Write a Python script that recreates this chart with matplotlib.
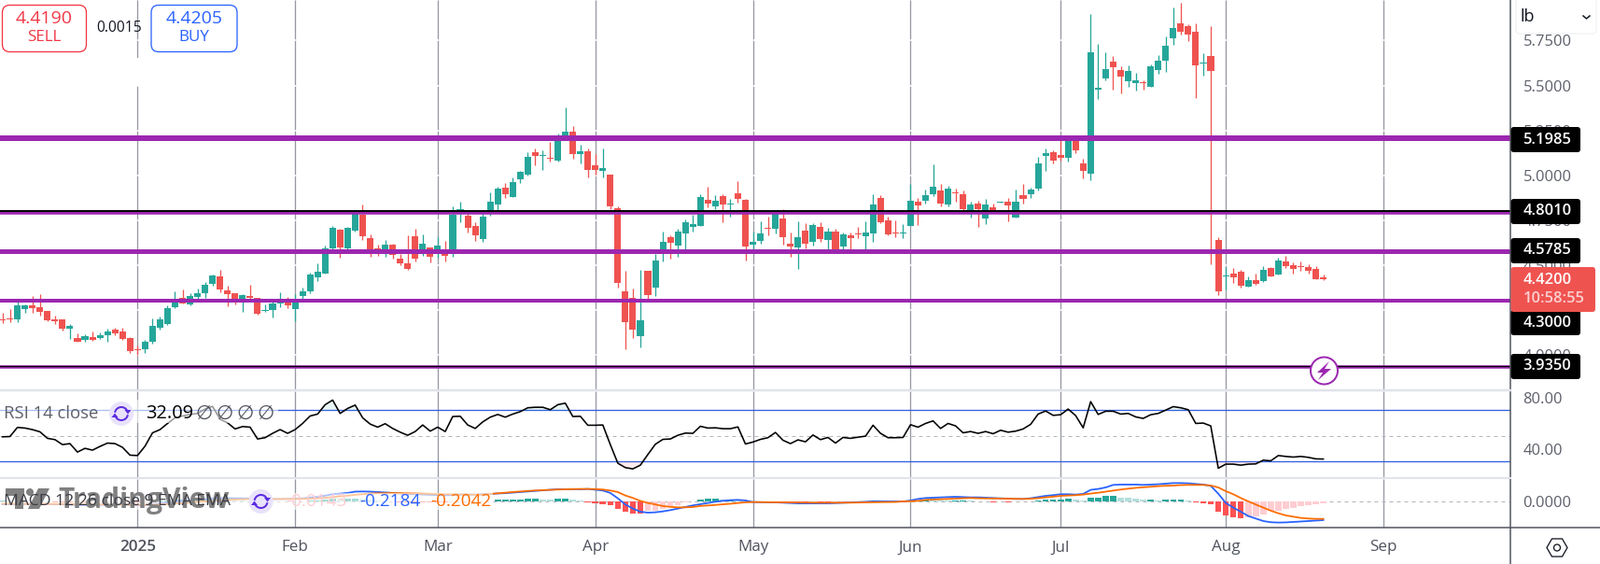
import numpy as np
import matplotlib
matplotlib.use("Agg")
import matplotlib.pyplot as plt
from matplotlib.patches import FancyBboxPatch, Rectangle, Circle, Polygon, Arc

plt.rcParams["font.family"] = "Open Sans"

W, H = 1715, 604
PX = 0.72  # one pixel in points at dpi 100

# bars are numbered from the first session of 2025
bars = np.arange(-18, 159)
month_bars = [0, 21, 40, 61, 82, 103, 123, 145, 166]
month_labels = ["2025", "Feb", "Mar", "Apr", "May", "Jun", "Jul", "Aug", "Sep"]

opens = [4.200,4.203,4.198,4.255,4.276,4.265,4.245,4.198,4.198,4.147,4.095,4.085,4.100,4.095,4.111,4.142,4.131,4.095,4.033,
    4.033,4.075,4.152,4.172,4.265,4.317,4.281,4.320,4.343,4.394,4.435,4.358,4.343,4.301,4.327,4.317,4.245,4.250,4.286,4.301,
    4.255,4.327,4.353,4.430,4.451,4.590,4.693,4.590,4.688,4.776,4.647,4.590,4.582,4.611,4.534,4.508,4.657,4.585,4.595,4.583,
    4.570,4.583,4.800,4.771,4.714,4.642,4.793,4.833,4.925,4.874,4.972,4.998,5.121,5.101,5.090,5.075,5.206,5.235,5.111,5.127,
    5.049,5.018,4.998,4.812,4.353,4.317,4.105,4.466,4.374,4.583,4.652,4.606,4.673,4.709,4.714,4.858,4.822,4.879,4.833,4.894,
    4.858,4.611,4.631,4.704,4.698,4.755,4.616,4.595,4.688,4.626,4.709,4.637,4.683,4.601,4.662,4.673,4.657,4.673,4.869,4.745,
    4.678,4.673,4.714,4.848,4.853,4.889,4.910,4.833,4.900,4.889,4.802,4.838,4.755,4.817,4.843,4.848,4.760,4.884,4.889,4.920,
    5.101,5.121,5.106,5.090,5.185,5.060,5.003,5.467,5.529,5.622,5.575,5.513,5.503,5.508,5.482,5.575,5.627,5.751,5.833,5.818,
    5.787,5.611,5.653,4.637,4.434,4.451,4.461,4.379,4.415,4.410,4.482,4.446,4.518,4.497,4.494,4.487,4.477,4.430]
closes = [4.195,4.198,4.276,4.276,4.260,4.240,4.193,4.188,4.147,4.162,4.075,4.105,4.085,4.111,4.131,4.121,4.090,4.023,4.028,
    4.075,4.162,4.198,4.260,4.291,4.286,4.327,4.343,4.389,4.441,4.363,4.338,4.301,4.332,4.317,4.229,4.250,4.286,4.301,4.276,
    4.307,4.353,4.446,4.461,4.590,4.704,4.595,4.704,4.786,4.657,4.580,4.582,4.611,4.554,4.508,4.477,4.534,4.616,4.544,4.606,
    4.549,4.776,4.807,4.704,4.662,4.766,4.848,4.920,4.889,4.956,5.013,5.096,5.101,5.106,5.085,5.188,5.235,5.111,5.127,5.023,
    5.023,5.034,4.822,4.399,4.183,4.142,4.193,4.332,4.523,4.626,4.621,4.683,4.735,4.724,4.874,4.838,4.853,4.833,4.838,4.864,
    4.601,4.626,4.673,4.698,4.784,4.652,4.601,4.652,4.616,4.719,4.642,4.683,4.582,4.668,4.647,4.668,4.678,4.833,4.735,4.668,
    4.673,4.678,4.853,4.827,4.884,4.931,4.838,4.920,4.894,4.807,4.833,4.807,4.833,4.797,4.848,4.827,4.848,4.864,4.915,5.060,
    5.116,5.075,5.090,5.185,5.132,5.018,5.673,5.475,5.580,5.591,5.539,5.570,5.518,5.503,5.596,5.627,5.709,5.807,5.787,5.771,
    5.601,5.617,5.570,4.353,4.439,4.430,4.384,4.415,4.394,4.472,4.435,4.523,4.492,4.477,4.489,4.466,4.420,4.418]
highs = [4.234,4.257,4.295,4.281,4.327,4.338,4.245,4.219,4.198,4.172,4.121,4.116,4.131,4.126,4.147,4.152,4.152,4.100,4.054,
    4.085,4.203,4.214,4.276,4.353,4.363,4.343,4.370,4.405,4.446,4.472,4.384,4.343,4.338,4.389,4.317,4.281,4.301,4.348,4.322,
    4.338,4.374,4.456,4.508,4.606,4.714,4.699,4.709,4.797,4.833,4.668,4.611,4.637,4.616,4.559,4.662,4.698,4.668,4.595,4.652,
    4.631,4.822,4.848,4.797,4.735,4.786,4.900,4.931,4.951,4.982,5.018,5.121,5.142,5.132,5.178,5.223,5.369,5.266,5.163,5.142,
    5.111,5.142,4.998,4.822,4.466,4.368,4.472,4.466,4.559,4.683,4.662,4.698,4.750,4.776,4.889,4.931,4.884,4.889,4.864,4.962,
    4.864,4.683,4.740,4.766,4.793,4.807,4.678,4.740,4.729,4.729,4.735,4.704,4.698,4.678,4.678,4.709,4.740,4.889,4.884,4.766,
    4.745,4.724,4.946,4.869,4.915,5.054,4.946,4.936,4.920,4.910,4.848,4.853,4.864,4.838,4.850,4.869,4.915,4.946,4.925,5.096,
    5.142,5.132,5.188,5.200,5.200,5.085,5.885,5.720,5.673,5.653,5.596,5.601,5.560,5.518,5.606,5.658,5.761,5.921,5.947,5.828,
    5.833,5.668,5.818,4.652,4.487,4.482,4.472,4.435,4.451,4.492,4.487,4.539,4.549,4.513,4.518,4.503,4.492,4.446]
lows = [4.179,4.183,4.183,4.234,4.234,4.219,4.188,4.174,4.136,4.090,4.075,4.075,4.080,4.090,4.075,4.111,4.085,4.013,4.002,
    4.013,4.064,4.142,4.167,4.260,4.286,4.277,4.303,4.317,4.384,4.348,4.270,4.281,4.240,4.301,4.224,4.240,4.209,4.265,4.260,
    4.188,4.312,4.343,4.410,4.451,4.585,4.539,4.580,4.683,4.637,4.544,4.549,4.544,4.534,4.497,4.472,4.518,4.549,4.513,4.539,
    4.518,4.544,4.735,4.678,4.631,4.626,4.771,4.797,4.869,4.874,4.951,4.992,5.049,5.023,5.070,5.070,5.188,5.085,5.060,4.982,
    4.998,4.982,4.807,4.374,4.033,4.095,4.044,4.312,4.327,4.518,4.534,4.544,4.582,4.683,4.714,4.817,4.807,4.735,4.766,4.843,
    4.523,4.570,4.616,4.662,4.673,4.611,4.544,4.477,4.590,4.606,4.626,4.580,4.578,4.576,4.582,4.647,4.582,4.626,4.729,4.662,
    4.652,4.647,4.714,4.719,4.838,4.879,4.822,4.822,4.848,4.797,4.760,4.709,4.724,4.793,4.841,4.740,4.760,4.838,4.869,4.910,
    5.018,5.060,5.075,5.070,5.116,4.977,4.967,5.415,5.518,5.467,5.446,5.482,5.462,5.467,5.482,5.555,5.565,5.714,5.771,5.735,
    5.420,5.544,4.503,4.332,4.363,4.399,4.374,4.379,4.389,4.405,4.435,4.446,4.482,4.451,4.466,4.451,4.420,4.415]

rsi = [49.4,49.6,56.7,56.2,55.0,53.3,48.2,47.2,43.3,44.1,37.5,40.4,39.0,41.9,44.5,44.1,41.2,35.1,34.8,
    42.1,52.5,55.0,59.8,64.2,65.6,66.8,67.6,71.0,73.1,63.0,60.3,55.5,57.4,56.9,47.7,48.7,52.1,55.0,52.1,
    55.0,59.8,65.6,67.1,74.4,78.0,67.6,71.5,74.1,64.2,59.3,56.9,59.6,55.9,53.0,50.6,53.5,58.6,53.8,56.9,
    53.5,65.2,65.4,58.6,55.9,61.0,64.7,66.8,64.7,67.1,69.0,72.0,72.4,72.4,70.5,74.4,75.6,65.2,65.4,58.4,
    58.4,58.6,43.3,28.8,25.4,24.4,27.3,35.6,43.6,47.4,47.7,50.6,52.3,52.1,57.6,56.2,56.4,55.7,55.7,57.1,
    43.8,45.3,47.4,48.7,52.8,46.7,44.1,47.0,45.5,50.8,47.2,48.9,44.5,48.9,48.2,49.1,49.9,58.4,52.1,48.7,
    48.7,48.9,58.8,56.9,59.8,61.8,55.9,59.8,57.9,52.5,53.5,52.1,53.5,51.8,54.5,53.0,53.8,55.5,59.1,67.1,
    69.5,66.1,66.6,71.0,65.9,56.4,76.8,66.8,69.3,69.3,67.1,67.6,64.9,63.7,66.6,67.6,70.2,72.9,72.0,70.5,
    59.8,60.1,57.9,24.9,28.1,28.1,27.3,28.1,28.3,31.2,30.7,34.8,34.1,33.6,34.1,33.4,32.2,32.09]

macd = [-0.030,-0.030,-0.028,-0.025,-0.025,-0.025,-0.028,-0.030,-0.032,-0.035,-0.040,-0.040,-0.040,-0.038,-0.035,-0.033,-0.033,-0.038,-0.042,
    -0.040,-0.032,-0.022,-0.010,0.002,0.010,0.018,0.025,0.032,0.040,0.042,0.042,0.040,0.040,0.038,0.030,0.028,0.030,0.033,0.035,
    0.035,0.040,0.050,0.058,0.072,0.090,0.096,0.104,0.120,0.122,0.120,0.115,0.110,0.105,0.098,0.090,0.088,0.086,0.082,0.080,
    0.076,0.082,0.085,0.085,0.084,0.088,0.092,0.098,0.102,0.108,0.115,0.122,0.130,0.135,0.142,0.148,0.148,0.150,0.148,0.152,
    0.142,0.133,0.104,0.040,-0.033,-0.081,-0.119,-0.130,-0.126,-0.115,-0.100,-0.081,-0.063,-0.044,-0.030,-0.015,0.000,0.011,0.019,0.022,
    0.015,-0.004,-0.005,-0.006,-0.008,-0.012,-0.015,-0.020,-0.020,-0.019,-0.020,-0.020,-0.017,-0.013,-0.009,-0.005,-0.001,0.005,0.004,0.002,
    0.002,0.002,0.015,0.033,0.044,0.048,0.052,0.056,0.059,0.056,0.052,0.052,0.048,0.044,0.041,0.037,0.033,0.033,0.041,0.056,
    0.070,0.078,0.089,0.089,0.085,0.093,0.141,0.152,0.170,0.200,0.204,0.204,0.204,0.200,0.204,0.208,0.215,0.222,0.222,0.219,
    0.211,0.204,0.189,0.096,-0.015,-0.070,-0.119,-0.170,-0.200,-0.230,-0.244,-0.248,-0.246,-0.241,-0.237,-0.230,-0.224,-0.2184]
signal = [-0.025,-0.026,-0.026,-0.026,-0.026,-0.026,-0.026,-0.027,-0.028,-0.029,-0.030,-0.032,-0.033,-0.034,-0.034,-0.034,-0.034,-0.035,-0.036,
    -0.037,-0.036,-0.033,-0.029,-0.023,-0.016,-0.009,-0.002,0.005,0.012,0.018,0.023,0.027,0.030,0.032,0.032,0.031,0.031,0.031,0.032,
    0.033,0.034,0.037,0.041,0.047,0.056,0.064,0.072,0.082,0.090,0.096,0.100,0.102,0.103,0.102,0.100,0.098,0.096,0.093,0.091,
    0.088,0.087,0.086,0.086,0.085,0.085,0.092,0.100,0.108,0.115,0.122,0.128,0.134,0.138,0.141,0.145,0.148,0.150,0.152,0.152,
    0.150,0.145,0.133,0.115,0.074,0.045,0.010,-0.015,-0.032,-0.052,-0.061,-0.067,-0.067,-0.063,-0.050,-0.045,-0.038,-0.030,-0.024,-0.015,
    -0.007,-0.004,-0.005,-0.005,-0.006,-0.007,-0.008,-0.009,-0.010,-0.011,-0.012,-0.012,-0.012,-0.012,-0.011,-0.010,-0.008,-0.006,-0.005,-0.004,
    -0.003,0.004,0.006,0.010,0.022,0.026,0.030,0.034,0.039,0.041,0.044,0.041,0.040,0.040,0.039,0.037,0.035,0.033,0.036,0.042,
    0.052,0.060,0.070,0.074,0.078,0.085,0.097,0.107,0.120,0.133,0.145,0.155,0.165,0.172,0.180,0.185,0.190,0.192,0.198,0.200,
    0.200,0.200,0.193,0.170,0.126,0.089,0.044,0.004,-0.033,-0.070,-0.107,-0.137,-0.163,-0.178,-0.193,-0.200,-0.204,-0.2042]
hist = [0.012,0.008,0.006,0.004,0.003,0.002,-0.002,-0.003,-0.004,-0.006,-0.008,-0.008,-0.007,-0.004,-0.001,0.001,0.001,-0.003,-0.006,
    -0.003,0.004,0.011,0.019,0.025,0.026,0.027,0.027,0.027,0.028,0.024,0.019,0.013,0.010,0.006,-0.002,-0.003,-0.001,0.002,0.003,
    0.002,0.006,0.013,0.017,0.025,0.034,0.032,0.032,0.038,0.032,0.024,0.015,0.008,0.002,-0.004,-0.010,-0.010,-0.010,-0.011,-0.011,
    -0.012,-0.005,-0.001,-0.001,-0.002,0.002,0.002,0.022,0.022,0.022,0.022,0.033,0.033,0.030,0.022,0.033,0.033,0.022,0.011,
    -0.007,-0.022,-0.033,-0.044,-0.089,-0.122,-0.144,-0.144,-0.111,-0.104,-0.081,-0.052,-0.037,-0.011,
    0.007,0.022,0.033,0.033,0.022,0.022,0.015,0.007,
    -0.002,-0.002,-0.002,-0.003,-0.004,-0.006,-0.008,-0.008,-0.007,-0.008,-0.008,-0.006,-0.004,-0.002,-0.001,0.002,0.006,0.005,0.004,0.003,0.003,
    0.006,0.013,0.022,0.020,0.017,0.016,0.016,0.016,
    0.015,0.000,0.000,-0.003,-0.002,-0.003,-0.002,-0.001,0.004,0.011,0.022,0.022,0.022,0.033,0.022,0.011,0.052,0.052,0.067,0.067,0.052,0.044,0.033,0.022,
    0.022,0.011,0.022,0.022,0.022,0.011,-0.004,-0.015,-0.030,-0.119,-0.163,-0.189,-0.200,-0.181,-0.178,-0.156,-0.111,-0.107,-0.089,-0.074,-0.052,-0.041,-0.030,-0.0143]

level_purple = [5.199, 4.784, 4.573, 4.301, 3.934]
level_purple_px = [6, 3.5, 5, 4, 3.5]
level_black = [4.7965, 3.943]
level_black_px = [2, 1.2]

price_ticks = [5.75, 5.5, 5.25, 5.0, 4.75, 4.5, 4.25, 4.0]
rsi_ticks = [80, 40]
macd_ticks = [0]

GREEN, RED = "#26a69a", "#ef5350"
GRID = "#9598a1"
TEXT = "#5d606b"
AXIS_R = 1618.5
X0, DX = 147.3, 8.04

fig = plt.figure(figsize=(W / 100, H / 100), dpi=100, facecolor="white")

def pane(y1, y2):
    ax = fig.add_axes([0, 1 - y2 / H, AXIS_R / W, (y2 - y1) / H])
    ax.set_xlim(-X0 / DX, (AXIS_R - X0) / DX)
    for s in ax.spines.values():
        s.set_visible(False)
    ax.yaxis.tick_right()
    ax.tick_params(axis="y", length=0, pad=13 * PX, labelsize=16.5 * PX, labelcolor=TEXT)
    ax.set_xticks([])
    ax.set_axisbelow(True)
    ax.vlines(month_bars, 0, 1, transform=ax.get_xaxis_transform(), color=GRID, lw=1.3 * PX, zorder=0.5)
    return ax

# price pane
ax = pane(0, 417.5)
ax.set_ylim(5.962 - 417.5 * 3 * 0.001719, 5.962)
# the tick rows sit slightly tighter than the candles as read, 48.1 px per 0.25
tick_pos = [5.962 - (187.7 + (5 - t) * 192.3) * 3 * 0.001719 for t in price_ticks]
ax.set_yticks(tick_pos, [f"{t:.4f}" for t in price_ticks])
ax.grid(axis="y", color="white", lw=1.5 * PX, zorder=0.8)
opens, closes, highs, lows = map(np.array, (opens, closes, highs, lows))
up = closes >= opens
colors = np.where(up, GREEN, RED)
ax.vlines(bars, lows, highs, colors=colors, lw=1.3 * PX, zorder=2)
ax.bar(bars, np.abs(closes - opens), bottom=np.minimum(opens, closes), width=0.88, color=colors, lw=0, zorder=3)
for lv, px in zip(level_purple, level_purple_px):
    ax.axhline(lv, color="#9c27b0", lw=px * PX, zorder=4)
for lv, px in zip(level_black, level_black_px):
    ax.axhline(lv, color="black", lw=px * PX, zorder=5)

# RSI pane
ax_rsi = pane(418.5, 511)
ax_rsi.set_ylim(80 - (511 - 425.7) / 1.375, 80 + (425.7 - 418.5) / 1.375)
ax_rsi.set_yticks(rsi_ticks, [f"{t:.2f}" for t in rsi_ticks])
rsi = np.array(rsi)
ax_rsi.axhline(70, color="#2f5fe0", lw=1.3 * PX, zorder=1)
ax_rsi.axhline(30, color="#2f5fe0", lw=1.3 * PX, zorder=1)
ax_rsi.axhline(50, color="#b2b5be", lw=1 * PX, dashes=(4, 4), zorder=1)
ax_rsi.fill_between(bars, rsi, 70, where=rsi > 70, color=GREEN, alpha=0.1, lw=0, interpolate=True)
ax_rsi.fill_between(bars, rsi, 30, where=rsi < 30, color="#f23645", alpha=0.1, lw=0, interpolate=True)
ax_rsi.plot(bars, rsi, color="black", lw=1.6 * PX, zorder=3)

# MACD pane
ax_m = pane(512.5, 565)
ax_m.set_ylim(-(565 - 537.3) / 90, (537.3 - 512.5) / 90)
ax_m.set_yticks(macd_ticks, ["0.0000"])
ax_m.axhline(0, color="#b2b5be", lw=1 * PX, dashes=(4, 4), zorder=1)
hist = np.array(hist)
prev = np.r_[hist[0], hist[:-1]]
hist_colors = np.where(hist >= 0, np.where(hist >= prev, GREEN, "#b2dfdb"),
                       np.where(hist <= prev, "#ff5252", "#ffcdd2"))
ax_m.bar(bars, hist, width=0.82, color=hist_colors, lw=0, zorder=2)
ax_m.plot(bars, macd, color="#2962ff", lw=1.8 * PX, zorder=3)
ax_m.plot(bars, signal, color="#ff6d00", lw=1.8 * PX, zorder=4)

# everything of the trading ui sits on a pixel overlay
ui = fig.add_axes([0, 0, 1, 1], facecolor="none")
ui.set_xlim(0, W)
ui.set_ylim(H, 0)
ui.axis("off")

def label(x, y, s, color="black", px=17, ha="left", weight="normal", z=10, family=None):
    ui.text(x, y, s, color=color, fontsize=px * PX, ha=ha, va="center", fontweight=weight, zorder=z, family=family)

def rbox(x1, y1, x2, y2, fc, ec="none", lw=0, r=3, z=8):
    ui.add_patch(FancyBboxPatch((x1, y1), x2 - x1, y2 - y1, boxstyle=f"round,pad=0,rounding_size={r}",
                                fc=fc, ec=ec, lw=lw * PX, zorder=z))

def sync_icon(cx, cy):
    ui.add_patch(Circle((cx, cy), 13, fc="#e9e2fb", ec="none", zorder=8))
    c = "#5b2be0"
    ui.add_patch(Arc((cx, cy), 14, 14, theta1=190, theta2=340, ec=c, lw=2 * PX, zorder=9))
    ui.add_patch(Arc((cx, cy), 14, 14, theta1=10, theta2=160, ec=c, lw=2 * PX, zorder=9))
    ui.add_patch(Polygon([(cx + 10.5, cy - 4), (cx + 3.5, cy - 4), (cx + 7, cy + 0.5)], fc=c, ec="none", zorder=9))
    ui.add_patch(Polygon([(cx - 10.5, cy + 4), (cx - 3.5, cy + 4), (cx - 7, cy - 0.5)], fc=c, ec="none", zorder=9))

# price tags
for txt, yc in zip(["5.1985", "4.8010", "4.5785", "4.3000", "3.9350"], [149.5, 226.5, 268.5, 345.5, 392.5]):
    rbox(AXIS_R, yc - 13.5, 1693, yc + 13.5, "black")
    label(1631.5, yc, txt, "white", 16.5, weight="semibold")
rbox(AXIS_R, 286, 1709, 334, "#ef5350", z=9)
label(1631.5, 299.5, "4.4200", "white", 16.5, weight="semibold", z=11)
label(1631.5, 320.5, "10:58:55", "#fbd0d0", 16.5, weight="semibold", z=11)

# axes frame
ui.plot([AXIS_R, AXIS_R], [0, H], color="#50535e", lw=1.5 * PX, zorder=7)
ui.plot([0, W], [565, 565], color="#50535e", lw=1.5 * PX, zorder=7)
ui.plot([0, AXIS_R], [417.5, 417.5], color="#e0e3eb", lw=2.5 * PX, zorder=7)
ui.plot([0, AXIS_R], [511.5, 511.5], color="#e0e3eb", lw=2 * PX, zorder=7)

# time axis
for b, s in zip(month_bars, month_labels):
    label(X0 + DX * b, 586.5, s, "#50535e", ha="center", weight="semibold" if s == "2025" else "normal")

# sell / buy widgets
ui.add_patch(Rectangle((145, 62), 5, 30, fc="white", ec="none", zorder=6))
rbox(2.5, 5.5, 92.5, 55.5, "white", "#f23645", 1.3, r=8)
rbox(162, 5.5, 254, 55.5, "white", "#2962ff", 1.3, r=8)
label(47.5, 20, "4.4190", "#f23645", 19.5, "center")
label(47.5, 40, "SELL", "#f23645", 17, "center")
label(208, 20, "4.4205", "#2962ff", 19.5, "center")
label(208, 40, "BUY", "#2962ff", 17, "center")
label(127.5, 30.5, "0.0015", "#131722", 15.5, "center")

# unit box
rbox(1624, -6, 1710, 36, "white", "#eceef2", 1)
label(1629, 18, "lb", "#131722", 18)
ui.plot([1696, 1699.5, 1703], [17, 20, 17], color="#131722", lw=1.5 * PX, zorder=10)

# settings hexagon
ang = np.deg2rad(np.arange(0, 360, 60))
ui.add_patch(Polygon(np.c_[1668 + 11 * np.cos(ang), 586.5 + 11 * np.sin(ang)], fc="none", ec="#131722", lw=1.3 * PX, zorder=10))
ui.add_patch(Circle((1668, 586.5), 3.5, fc="none", ec="#131722", lw=1.3 * PX, zorder=10))

# lightning badge on the lowest level
ui.add_patch(Circle((1418.5, 397), 14.5, fc="white", ec="#9c27b0", lw=2 * PX, zorder=9))
ui.add_patch(Polygon([(1424, 387), (1411, 399), (1417, 399), (1412, 407), (1426, 395), (1419, 395)],
                     fc="#9c27b0", ec="none", zorder=10))

# RSI legend
ui.add_patch(Rectangle((0, 428), 298, 25, fc="white", ec="none", alpha=0.6, zorder=6))
label(4, 443, "RSI 14 close", TEXT, 18.5)
sync_icon(130, 443)
label(156, 443, "32.09", "black", 20)
for xv in [219, 241, 263, 285]:
    label(xv, 443, "\u2205", "#50535e", 21, "center", family="DejaVu Sans")

# MACD legend and the watermark under it
ui.add_patch(Rectangle((0, 528), 528, 18, fc="white", ec="none", alpha=0.6, zorder=6))
wm = "#808080"
ui.add_patch(Rectangle((6, 523), 20, 8, fc=wm, ec="none", zorder=7))
ui.add_patch(Rectangle((16, 523), 9, 22, fc=wm, ec="none", zorder=7))
ui.add_patch(Circle((32, 527), 4, fc=wm, ec="none", zorder=7))
ui.add_patch(Polygon([(41, 523), (53, 523), (42, 545), (30, 545)], fc=wm, ec="none", zorder=7))
ui.text(62, 536, "TradingView", color=wm, fontsize=30 * PX, fontweight="bold", va="center", ha="left", zorder=7)
label(4, 537, "MACD 12 26 close 9 EMA EMA", "#3a3c44", 17.5, z=9)
sync_icon(279.5, 537)
label(306, 537, "-0.0143", "#ffcdd2", 19)
label(385, 537, "-0.2184", "#2962ff", 19)
label(461, 537, "-0.2042", "#ff6d00", 19)

fig.savefig("out.png", dpi=100)
